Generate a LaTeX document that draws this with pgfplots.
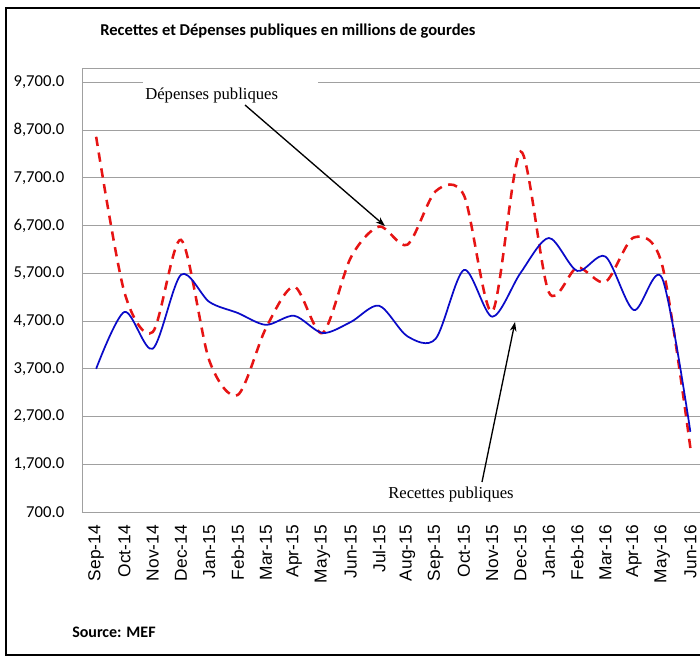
\documentclass[border=0pt]{standalone}
\usepackage{fontspec}
\setmainfont{Carlito}
\newfontfamily\arialf{Liberation Sans}
\newfontfamily\timesf{Liberation Serif}
\usepackage{pgfplots}
\pgfplotsset{compat=1.18}
\usetikzlibrary{arrows.meta}
\definecolor{depred}{RGB}{230,20,20}
\definecolor{recblue}{RGB}{10,10,200}
\definecolor{gridg}{RGB}{160,160,160}

\begin{document}
\begin{tikzpicture}
\path[use as bounding box] (0,0) rectangle (525pt,-492pt);
\begin{axis}[
  at={(61.5pt,-384pt)}, anchor=south west,
  scale only axis, width=463.5pt, height=333pt,
  xmin=-0.5, xmax=21.34, ymin=700, ymax=10000,
  axis x line=box, axis y line=left,
  axis line style={draw=gridg, -},
  y axis line style={-},
  xtick={0,...,21},
  xticklabels={Sep-14,Oct-14,Nov-14,Dec-14,Jan-15,Feb-15,Mar-15,Apr-15,May-15,Jun-15,Jul-15,Aug-15,Sep-15,Oct-15,Nov-15,Dec-15,Jan-16,Feb-16,Mar-16,Apr-16,May-16,Jun-16},
  xticklabel style={rotate=90, anchor=east, inner sep=0pt, font=\arialf\fontsize{13}{15}\selectfont},
  xticklabel shift=9.75pt,
  ytick={700,1700,...,9700},
  scaled y ticks=false,
  yticklabel style={anchor=east, inner sep=0pt, font=\fontsize{12.5}{15}\selectfont},
  yticklabel shift=11pt,
  /pgf/number format/assume math mode=true,
  /pgf/number format/.cd, fixed, fixed zerofill, precision=1, 1000 sep={,}, /pgfplots/.cd,
  ymajorgrids, grid style={draw=gridg, line width=0.6pt},
  tick style={draw=none},
]
% Depenses publiques
\addplot[color=depred, line width=1.9pt, smooth, dash pattern=on 7pt off 5pt] coordinates {
 (0,8560) (1,5300) (2,4470) (3,6400) (4,3870) (5,3150) (6,4550) (7,5420) (8,4450) (9,6030) (10,6680)
 (11,6300) (12,7420) (13,7330) (14,4900) (15,8250) (16,5300) (17,5820) (18,5520) (19,6450) (20,5880) (21,2040)
};
% Recettes publiques
\addplot[color=recblue, line width=1.3pt, smooth] coordinates {
 (0,3700) (1,4890) (2,4120) (3,5670) (4,5100) (5,4870) (6,4620) (7,4810) (8,4450) (9,4680) (10,5020)
 (11,4380) (12,4330) (13,5770) (14,4790) (15,5710) (16,6440) (17,5750) (18,6050) (19,4930) (20,5600) (21,2380)
};
\end{axis}
\begin{scope}[x=0.75pt, y=-0.75pt]
\draw[line width=1.2pt] (705,8) -- (6,8) -- (6,655) -- (705,655);
\node[anchor=west, inner sep=0pt, font=\bfseries\fontsize{12.4}{14}\selectfont] at (100,31) {Recettes et Dépenses publiques en millions de gourdes};
\node[anchor=west, inner sep=0pt, font=\bfseries\fontsize{12}{14}\selectfont] at (72,632) {Source: MEF};
\fill[white] (143,75) rectangle (318,110);
\node[anchor=west, inner sep=0pt, font=\timesf\fontsize{12.5}{15}\selectfont] at (145,95) {Dépenses publiques};
\draw[-{Stealth[length=7pt, width=5pt]}, line width=1pt] (245,105) -- (385,226);
\node[anchor=west, inner sep=0pt, font=\timesf\fontsize{12.5}{15}\selectfont] at (388,494) {Recettes publiques};
\draw[-{Stealth[length=7pt, width=5pt]}, line width=1pt] (482,482) -- (515,322);
\end{scope}
\end{tikzpicture}
\end{document}
